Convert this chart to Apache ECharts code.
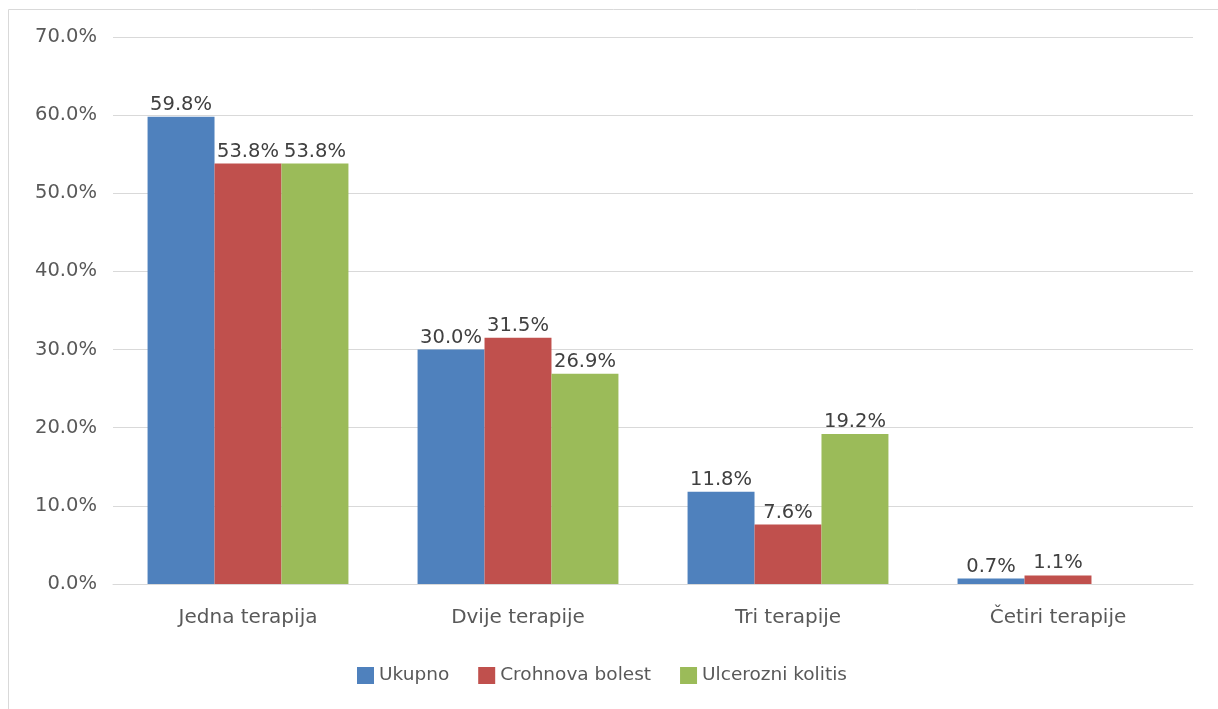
<!DOCTYPE html>
<html>
<head>
<meta charset="utf-8">
<script src="https://cdn.jsdelivr.net/npm/echarts@6/dist/echarts.min.js"></script>
<style>
html,body{margin:0;padding:0;background:#fff;}
#chart{width:1218px;height:709px;}
</style>
</head>
<body>
<div id="chart"></div>
<script>
const categories = ['Jedna terapija', 'Dvije terapije', 'Tri terapije', 'Četiri terapije'];
const seriesNames = ['Ukupno', 'Crohnova bolest', 'Ulcerozni kolitis'];
const ukupno = [59.8, 30.0, 11.8, 0.7];
const crohnova = [53.8, 31.5, 7.6, 1.1];
const ulcerozni = [53.8, 26.9, 19.2, null];
const colors = ['#4F81BD', '#C0504D', '#9BBB59'];
const font = '"DejaVu Sans", Verdana, sans-serif';

const chart = echarts.init(document.getElementById('chart'));
const mk = (name, data, color) => ({
  name, type: 'bar', data,
  barGap: '0%', barCategoryGap: '25.6%',
  itemStyle: { color },
  label: {
    show: true, position: 'top', distance: 2,
    color: '#404040', fontSize: 19.5, fontFamily: font,
    formatter: p => p.value == null ? '' : p.value.toFixed(1) + '%'
  }
});
chart.setOption({
  animation: false,
  graphic: [{
    type: 'polyline',
    shape: { points: [[8.5, 720], [8.5, 9.5], [1230, 9.5]] },
    style: { fill: 'none', stroke: '#d9d9d9', lineWidth: 1 }, silent: true
  }],
  grid: { left: 113, right: 25, top: 37, bottom: 125, containLabel: false },
  legend: {
    data: seriesNames, top: 661, left: 352,
    itemWidth: 17, itemHeight: 17, itemGap: 29,
    icon: 'rect',
    textStyle: { color: '#595959', fontSize: 18.5, fontFamily: font }
  },
  xAxis: {
    type: 'category', data: categories,
    axisLine: { lineStyle: { color: '#d9d9d9' } },
    axisTick: { show: false },
    axisLabel: { color: '#595959', fontSize: 20, fontFamily: font, margin: 24 }
  },
  yAxis: {
    type: 'value', min: 0, max: 70, interval: 10,
    axisLine: { show: false }, axisTick: { show: false },
    splitLine: { lineStyle: { color: '#d9d9d9' } },
    axisLabel: { color: '#595959', fontSize: 19.5, fontFamily: font, margin: 16,
      formatter: v => v.toFixed(1) + '%' }
  },
  series: [mk(seriesNames[0], ukupno, colors[0]), mk(seriesNames[1], crohnova, colors[1]), mk(seriesNames[2], ulcerozni, colors[2])]
});
</script>
</body>
</html>
